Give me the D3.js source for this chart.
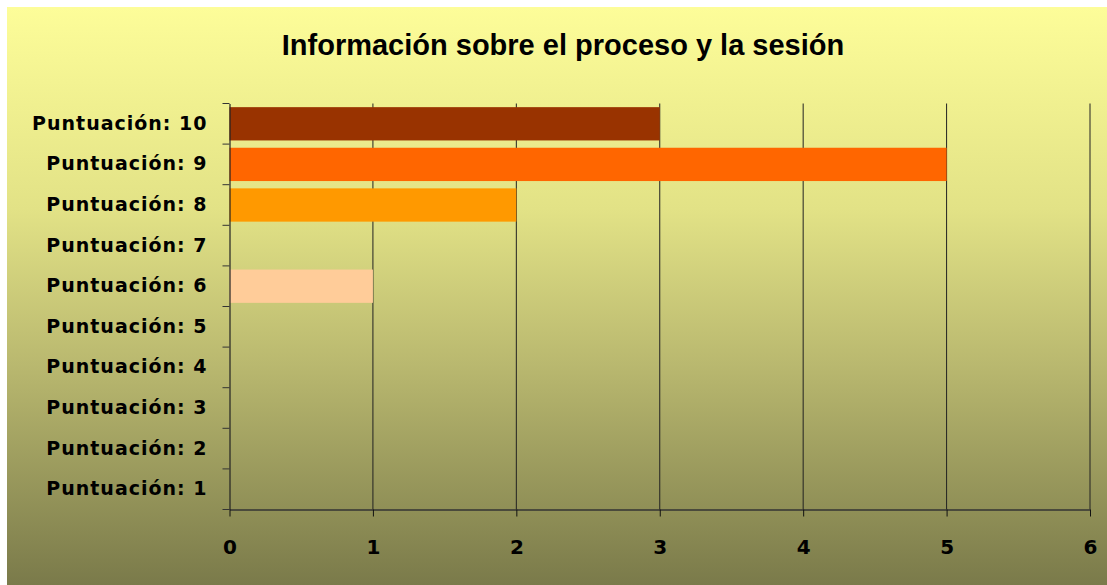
<!DOCTYPE html>
<html>
<head>
<meta charset="utf-8">
<script src="https://cdn.jsdelivr.net/npm/d3@7"></script>
<style>
  body { margin: 0; background: #fff; }
  svg { display: block; }
</style>
</head>
<body>
<div id="chart"></div>
<script>
// Datos
const categorias = ['Puntuación: 10', 'Puntuación: 9', 'Puntuación: 8', 'Puntuación: 7', 'Puntuación: 6',
  'Puntuación: 5', 'Puntuación: 4', 'Puntuación: 3', 'Puntuación: 2', 'Puntuación: 1'];
const valores = [3, 5, 2, 0, 1, 0, 0, 0, 0, 0];
const colores = ['#993300', '#FF6600', '#FF9900', '#FFCC99', '#FFCC99', '#FFCC99', '#FFCC99', '#FFCC99', '#FFCC99', '#FFCC99'];
const ticksX = [0, 1, 2, 3, 4, 5, 6];
const titulo = 'Información sobre el proceso y la sesión';

const width = 1107, height = 585;
const margin = { top: 103.5, right: 17, bottom: 75.5, left: 229.5 };

const svg = d3.select('#chart').append('svg')
  .attr('width', width)
  .attr('height', height);

// fondo degradado
const grad = svg.append('defs').append('linearGradient')
  .attr('id', 'fondo')
  .attr('x1', 0).attr('y1', 0).attr('x2', 0).attr('y2', 1);
grad.append('stop').attr('offset', '0%').attr('stop-color', '#FDFD99');
grad.append('stop').attr('offset', '35%').attr('stop-color', '#E2E286');
grad.append('stop').attr('offset', '62%').attr('stop-color', '#B9B86F');
grad.append('stop').attr('offset', '100%').attr('stop-color', '#7A7A4A');

svg.append('rect')
  .attr('x', 7).attr('y', 7)
  .attr('width', width - 7).attr('height', height - 7)
  .attr('fill', 'url(#fondo)');

svg.append('text')
  .attr('x', 563)
  .attr('y', 55)
  .attr('text-anchor', 'middle')
  .style('font-family', '"Liberation Sans", Arial, sans-serif')
  .style('font-weight', 'bold')
  .style('font-size', '29px')
  .attr('fill', '#000')
  .text(titulo);

const x = d3.scaleLinear()
  .domain([0, 6])
  .range([margin.left, width - margin.right]);

const y = d3.scaleBand()
  .domain(categorias)
  .range([margin.top, height - margin.bottom])
  .paddingInner(0.18)
  .paddingOuter(0.09);

const plotBottom = height - margin.bottom;

// líneas de división verticales
svg.append('g')
  .selectAll('line')
  .data(ticksX.slice(1))
  .enter()
  .append('line')
  .attr('x1', d => x(d)).attr('x2', d => x(d))
  .attr('y1', margin.top).attr('y2', plotBottom)
  .attr('stroke', '#222')
  .attr('stroke-width', 1);

// barras
svg.append('g')
  .selectAll('rect')
  .data(valores)
  .enter()
  .append('rect')
  .attr('x', x(0))
  .attr('y', (d, i) => y(categorias[i]))
  .attr('width', d => x(d) - x(0))
  .attr('height', y.bandwidth())
  .attr('fill', (d, i) => colores[i]);

// eje X
const ejeX = svg.append('g')
  .attr('transform', 'translate(0,' + plotBottom + ')')
  .call(d3.axisBottom(x).tickValues(ticksX).tickFormat(d3.format('d'))
    .tickSize(7).tickPadding(23).tickSizeOuter(0));
ejeX.select('.domain').attr('stroke', '#333').attr('stroke-width', 1.5);
ejeX.selectAll('.tick line').attr('stroke', '#111');
ejeX.selectAll('text')
  .style('font-family', '"DejaVu Sans", Verdana, sans-serif')
  .style('font-weight', 'bold')
  .style('font-size', '20px')
  .attr('fill', '#000');

// eje Y: marcas en los límites de las categorías
const ejeY = svg.append('g')
  .attr('transform', 'translate(' + margin.left + ',0)')
  .call(d3.axisLeft(y).tickSize(0).tickPadding(22).tickSizeOuter(0));
ejeY.select('.domain').attr('stroke', '#222').attr('stroke-width', 1.2);
ejeY.selectAll('text')
  .style('font-family', '"DejaVu Sans", Verdana, sans-serif')
  .style('font-weight', 'bold')
  .style('font-size', '19px')
  .style('letter-spacing', '1px')
  .attr('fill', '#000');

const limites = categorias.map(c => y(c) - y.step() * y.paddingInner() / 2);
limites.push(plotBottom);
limites[0] = margin.top;
svg.append('g')
  .selectAll('line')
  .data(limites)
  .enter()
  .append('line')
  .attr('x1', margin.left - 7).attr('x2', margin.left)
  .attr('y1', d => d).attr('y2', d => d)
  .attr('stroke', '#333')
  .attr('stroke-width', 1);
</script>
</body>
</html>
